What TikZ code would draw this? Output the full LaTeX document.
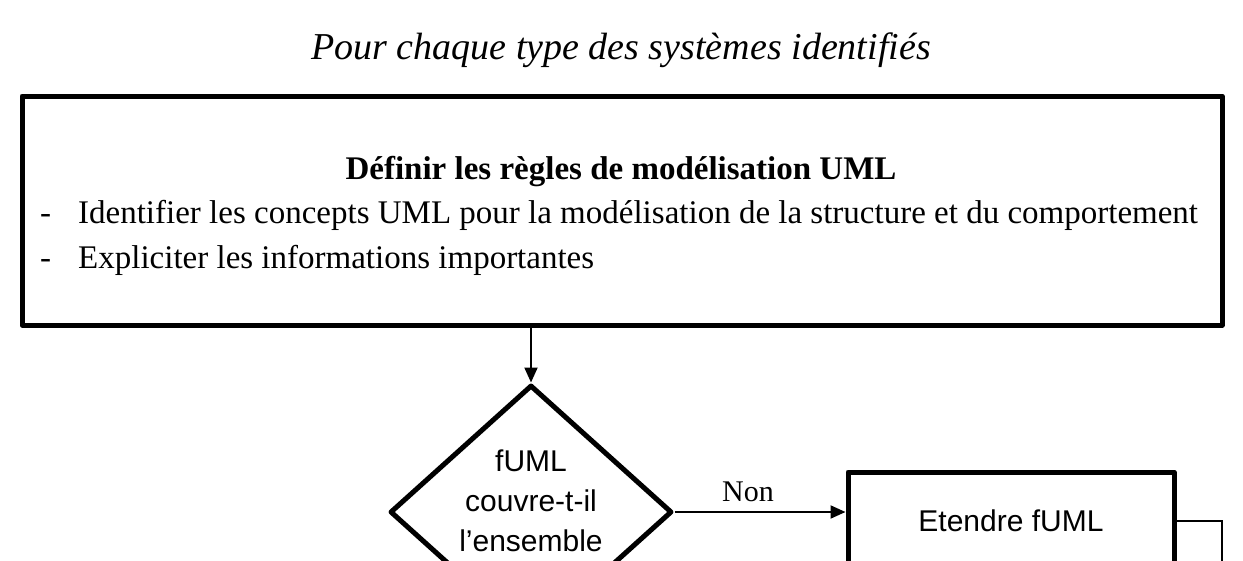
\documentclass[tikz,border=0pt]{standalone}
\usepackage{fontspec}
\setmainfont{Liberation Serif}
\newfontfamily\arial{Liberation Sans}
\usetikzlibrary{shapes.geometric,arrows.meta}

\begin{document}
\begin{tikzpicture}[x=1pt,y=-1pt,
    boite/.style={draw,rectangle,line width=5pt,line join=round,inner sep=0pt},
    fleche/.style={line width=2pt,-{Triangle[length=15pt,width=13pt]}},
    txt/.style={inner sep=0pt,anchor=base,font=\fontsize{33}{38}\selectfont}]
    \useasboundingbox (0,0) rectangle (1243,560);

    \node (titre) at (621,59) [txt,font=\fontsize{38}{44}\selectfont\itshape] {Pour chaque type des systèmes identifiés};

    \node (regles) at (622,210.5) [boite,minimum width=1200pt,minimum height=229pt] {};
    \node (reglestitre) at (621,179) [txt,font=\fontsize{33}{38}\selectfont\bfseries] {Définir les règles de modélisation UML};
    \node (puce1) at (40,223) [txt,anchor=base west] {\makebox[38pt][l]{-}Identifier les concepts UML pour la modélisation de la structure et du comportement};
    \node (puce2) at (40,268) [txt,anchor=base west] {\makebox[38pt][l]{-}Expliciter les informations importantes};

    \node (test) at (531,512) [draw,diamond,line width=5pt,line join=round,minimum width=282pt,minimum height=254pt,inner sep=0pt] {};
    \node (testtxt) at (531,551) [txt,align=center,font=\arial\fontsize{30}{40}\selectfont] {fUML\\couvre-t-il\\l’ensemble};

    \node (etendre) at (1011,521) [boite,minimum width=326pt,minimum height=98pt,font=\arial\fontsize{30}{36}\selectfont] {Etendre fUML};
    \coordinate (sortie) at (1222,600);

    \draw[fleche] (test.north |- regles.south) -- (test.north);
    \draw[fleche] (test.east) -- (test.east -| etendre.west) node[pos=0.43,above=6pt,font=\fontsize{30}{34}\selectfont] (non) {Non};
    \draw[line width=2pt] (etendre.east) -- (etendre.east -| sortie) -- (sortie);

\end{tikzpicture}
\end{document}
